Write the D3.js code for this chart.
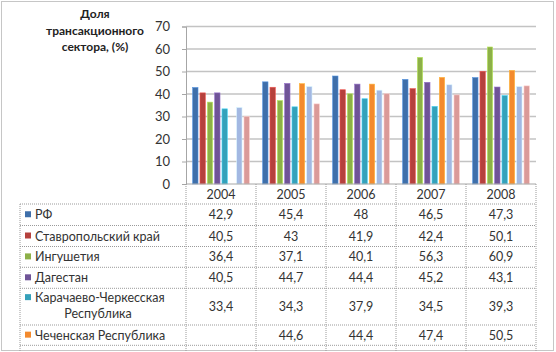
<!DOCTYPE html>
<html>
<head>
<meta charset="utf-8">
<script src="https://cdn.jsdelivr.net/npm/d3@7"></script>
<style>
  body { margin: 0; background: #fff; }
  svg { display: block; font-family: Lato, "Open Sans", sans-serif; }
</style>
</head>
<body>
<div id="chart"></div>
<script>
// data
const years = ["2004", "2005", "2006", "2007", "2008"];
const seriesNames = ["РФ", "Ставропольский край", "Ингушетия", "Дагестан",
    "Карачаево-Черкесская Республика", "Чеченская Республика",
    "Кабардино-Балкарская Республика", "Республика Северная Осетия-Алания"];
const seriesValues = [
    [42.9, 45.4, 48, 46.5, 47.3],
    [40.5, 43, 41.9, 42.4, 50.1],
    [36.4, 37.1, 40.1, 56.3, 60.9],
    [40.5, 44.7, 44.4, 45.2, 43.1],
    [33.4, 34.3, 37.9, 34.5, 39.3],
    [null, 44.6, 44.4, 47.4, 50.5],
    [34.0, 43.3, 41.7, 44.1, 43.3],
    [30.0, 35.6, 40.1, 39.6, 43.6]
];
const yTicks = [0, 10, 20, 30, 40, 50, 60, 70];
const colors = ["#3F6FAA", "#B5413D", "#8DB048", "#6F5497", "#35A1BA", "#F38A2E", "#A3B8E2", "#DA9A98"];

const W = 556, H = 352;
const svg = d3.select("#chart").append("svg")
    .attr("width", W)
    .attr("height", H);

// outer frame
svg.append("rect")
    .attr("x", 1.5).attr("y", 1.5)
    .attr("width", 552).attr("height", 349)
    .style("fill", "none")
    .style("stroke", "#8c8c8c")
    .style("stroke-dasharray", "1,1");

// scales
const x0 = d3.scaleBand().domain(years).range([186, 536]);
const x1 = d3.scaleBand().domain(d3.range(seriesNames.length))
    .range([6.65, 63.35]).paddingInner(0.27);
const y = d3.scaleLinear().domain([0, 70]).range([184, 26.5]);

// gridlines
svg.append("g").selectAll("line")
    .data(yTicks.filter(d => d > 0))
    .enter().append("line")
    .attr("x1", 186).attr("x2", 536)
    .attr("y1", d => y(d)).attr("y2", d => y(d))
    .style("stroke", "#c3c3c3")
    .style("stroke-width", 1.6);

// y axis
const yAxis = svg.append("g")
    .attr("class", "y axis")
    .attr("transform", "translate(186,0)")
    .call(d3.axisLeft(y).tickValues(yTicks).tickSize(4).tickPadding(12));
yAxis.select(".domain").style("stroke", "#a6a6a6");
yAxis.selectAll(".tick line").style("stroke", "#a6a6a6");
yAxis.selectAll("text")
    .style("font-size", "13px")
    .style("fill", "#333")
    .style("font-family", "Lato, 'Open Sans', sans-serif");

// axis title
svg.append("text")
    .attr("x", 95).attr("y", 18)
    .style("text-anchor", "middle")
    .style("font-size", "12px")
    .style("font-weight", "bold")
    .style("fill", "#222")
    .selectAll("tspan")
    .data(["Доля", "трансакционного", "сектора, (%)"])
    .enter().append("tspan")
    .attr("x", 95)
    .attr("dy", (d, i) => i === 0 ? 0 : 16.5)
    .text(d => d);

// bars
const groups = svg.append("g").selectAll("g")
    .data(years)
    .enter().append("g")
    .attr("transform", d => `translate(${x0(d)},0)`);

groups.selectAll("rect")
    .data((yr, j) => seriesValues.map((vals, i) => ({ i: i, v: vals[j] })).filter(d => d.v != null))
    .enter().append("rect")
    .attr("x", d => x1(d.i))
    .attr("width", x1.bandwidth())
    .attr("y", d => y(d.v))
    .attr("height", d => y(0) - y(d.v))
    .style("fill", d => colors[d.i])
    .style("stroke", d => d3.color(colors[d.i]).brighter(0.8))
    .style("stroke-width", 0.6);

// x axis line
svg.append("line")
    .attr("x1", 186).attr("x2", 536)
    .attr("y1", 184).attr("y2", 184)
    .style("stroke", "#a6a6a6");

// data table
const rowTops = [204, 225.5, 246.5, 267.3, 288.3, 325, 345.3];
const table = svg.append("g").attr("class", "data-table")
    .style("stroke", "#9a9a9a")
    .style("stroke-dasharray", "1,1");

// horizontal lines
rowTops.forEach(t => {
    table.append("line")
        .attr("x1", 20).attr("x2", 536)
        .attr("y1", t).attr("y2", t);
});
// left border of label column
table.append("line")
    .attr("x1", 20).attr("x2", 20)
    .attr("y1", 204).attr("y2", 351);
// column lines
[186].concat(years.map(d => x0(d) + x0.bandwidth())).forEach(xp => {
    table.append("line")
        .attr("x1", xp).attr("x2", xp)
        .attr("y1", 184).attr("y2", 351);
});

// header years
svg.append("g").selectAll("text")
    .data(years)
    .enter().append("text")
    .attr("x", d => x0(d) + x0.bandwidth() / 2)
    .attr("y", 199)
    .style("text-anchor", "middle")
    .style("font-size", "12.5px")
    .style("fill", "#333")
    .text(d => d);

// rows (only six fit in the frame)
const shownRows = 6;
const fmt = v => v == null ? "" : String(v).replace(".", ",");
for (let i = 0; i < shownRows; i++) {
    const top = rowTops[i], bottom = rowTops[i + 1];
    const mid = (top + bottom) / 2;
    const row = svg.append("g");
    const lines = i === 4 ? ["Карачаево-Черкесская", "Республика"] : [seriesNames[i]];
    const firstY = lines.length === 2 ? mid - 4.5 : mid + 4.5;

    row.append("rect")
        .attr("x", 25).attr("y", firstY - 8)
        .attr("width", 6).attr("height", 6)
        .style("fill", colors[i]);

    lines.forEach((ln, k) => {
        row.append("text")
            .attr("x", k === 0 ? 35 : 98)
            .attr("y", firstY + k * 16)
            .style("text-anchor", k === 0 ? "start" : "middle")
            .style("font-size", "12.5px")
            .style("fill", "#333")
            .text(ln);
    });

    row.selectAll(".val")
        .data(years)
        .enter().append("text")
        .attr("class", "val")
        .attr("x", d => x0(d) + x0.bandwidth() / 2)
        .attr("y", mid + 4.5)
        .style("text-anchor", "middle")
        .style("font-size", "12.5px")
        .style("fill", "#333")
        .text((d, j) => fmt(seriesValues[i][j]));
}
</script>
</body>
</html>
